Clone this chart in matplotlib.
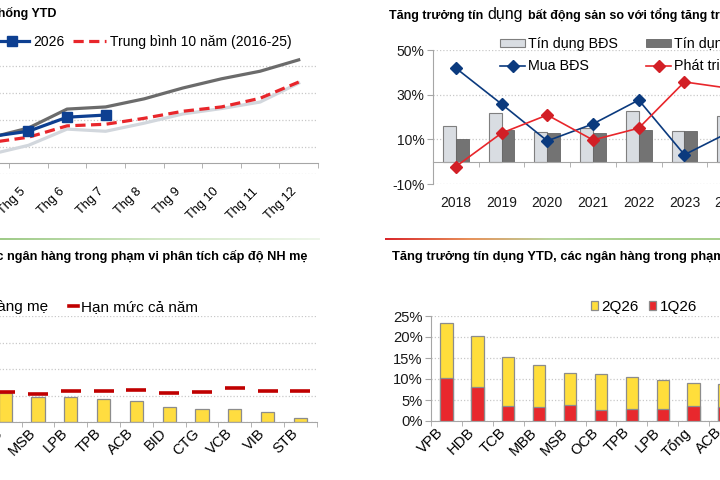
import numpy as np
import matplotlib
matplotlib.use("Agg")
import matplotlib.pyplot as plt
from matplotlib.lines import Line2D
from matplotlib.patches import Patch
from matplotlib.colors import LinearSegmentedColormap
from matplotlib.ticker import FuncFormatter

plt.rcParams['font.family'] = ['Liberation Sans', 'DejaVu Sans']

# ---------------- data ----------------
months = ["Thg 4", "Thg 5", "Thg 6", "Thg 7", "Thg 8", "Thg 9", "Thg 10", "Thg 11", "Thg 12"]
y2024 = [1.6, 3.3, 6.3, 5.9, 7.4, 9.1, 10.1, 11.3, 14.8]
y2025 = [4.7, 6.5, 10.0, 10.4, 11.9, 13.9, 15.6, 17.0, 19.1]
y2026 = [4.9, 5.9, 8.5, 8.9]
avg10 = [3.8, 4.8, 6.9, 7.2, 8.3, 9.6, 10.4, 12.0, 15.0]

years = ["2018", "2019", "2020", "2021", "2022", "2023", "2024"]
td_bds = [16.1, 21.9, 13.4, 15.2, 22.8, 13.9, 20.6]
td_total = [10.3, 14.3, 13.0, 13.0, 14.3, 13.9, 15.0]
mua_bds = [41.9, 25.8, 9.3, 16.9, 27.6, 3.1, 13.4]
phat_trien = [-2.2, 12.8, 20.9, 9.7, 15.0, 35.7, 32.8]

banks_nh = ["MBB", "MSB", "LPB", "TPB", "ACB", "BID", "CTG", "VCB", "VIB", "STB"]
growth_nh = [10.9, 9.5, 9.5, 8.7, 8.0, 5.5, 4.9, 4.8, 3.9, 1.4]
limit_nh = [11.2, 10.6, 11.6, 11.6, 12.0, 10.8, 11.2, 12.9, 11.6, 11.6]

banks = ["VPB", "HDB", "TCB", "MBB", "MSB", "OCB", "TPB", "LPB", "Tổng", "ACB"]
q2_26 = [23.3, 20.2, 15.3, 13.3, 11.5, 11.1, 10.5, 9.8, 9.1, 8.7]
q1_26 = [10.3, 8.0, 3.6, 3.3, 3.8, 2.6, 2.8, 2.9, 3.6, 3.3]

# ---------------- layout helpers ----------------
W, H = 720, 480
fig = plt.figure(figsize=(7.2, 4.8), dpi=100)
fig.patch.set_facecolor('white')
renderer = fig.canvas.get_renderer()


def rect(l, t, r, b):
    return [l / W, 1 - b / H, (r - l) / W, (b - t) / H]


GRID = dict(color='#c9c9c9', linestyle=(0, (1, 1.6)), linewidth=0.9)
AXC = '#a6a6a6'
pct = FuncFormatter(lambda v, p: f"{v:.0f}%")

# ---------------- top-left: line chart ----------------
ax1 = fig.add_axes(rect(-29.5, 55, 318, 174))
x1 = np.arange(len(months))
l24, = ax1.plot(x1, y2024, color='#d2d7dd', lw=2.3, zorder=2, label='2024')
l25, = ax1.plot(x1, y2025, color='#6b6b6b', lw=2.3, zorder=2, label='2025')
lav, = ax1.plot(x1, avg10, color='#e8262b', lw=2.3, zorder=3,
                dashes=(3.2, 1.7), label='Trung bình 10 năm (2016-25)')
l26, = ax1.plot(x1[:len(y2026)], y2026, color='#0d3f91', lw=2.3, marker='s',
                markersize=6.5, zorder=4, label='2026')
ax1.set_xlim(-0.5, len(months) - 0.5)
ax1.set_ylim(-2, 20)
ax1.set_yticks([-2, 3, 8, 13, 18])
ax1.yaxis.set_major_formatter(pct)
ax1.grid(axis='y', **GRID)
ax1.set_axisbelow(True)
for s in ['left', 'right', 'bottom']:
    ax1.spines[s].set_visible(False)
ax1.spines['top'].set_position(('data', 0))
ax1.spines['top'].set_color(AXC)
ax1.set_xticks(x1, months, rotation=45, ha='right', fontsize=9.2)
ax1.set_xticks(np.arange(-0.5, len(months), 1), minor=True)
ax1.tick_params(axis='x', which='major', length=0, pad=8.5)
ax1.tick_params(axis='x', which='minor', bottom=False, top=True, direction='in',
                length=3.5, color=AXC)
ax1.tick_params(axis='y', length=0, labelsize=9)

fig.legend([l24, l25, l26, lav], ['2024', '2025', '2026', 'Trung bình 10 năm (2016-25)'],
           ncol=4, loc='center right', bbox_to_anchor=(292 / W, 1 - 42 / H),
           frameon=False, fontsize=10, handlelength=2.4, handletextpad=0.3,
           columnspacing=0.6, borderpad=0, borderaxespad=0)

fig.text(57 / W, 1 - 13 / H, "Tăng trưởng tín dụng toàn hệ thống YTD",
         ha='right', va='center', fontsize=9, weight='bold')

# ---------------- top-right: bars + lines ----------------
ax2 = fig.add_axes(rect(433, 50, 753, 184))
x2 = np.arange(len(years))
bw = 0.28
b_l = ax2.bar(x2 - bw / 2, td_bds, bw, color='#d9dde2', edgecolor='#7f7f7f', lw=0.8, zorder=2)
b_d = ax2.bar(x2 + bw / 2, td_total, bw, color='#737373', edgecolor='#666666', lw=0.6, zorder=2)
m_l, = ax2.plot(x2, mua_bds, color='#0b3a7e', lw=1.2, marker='D', markersize=6.5, zorder=4)
p_l, = ax2.plot(x2, phat_trien, color='#e8262b', lw=1.2, marker='D', markersize=6.5,
                markerfacecolor='#d21f26', markeredgecolor='#d21f26', zorder=4)
ax2.set_xlim(-0.5, len(years) - 0.5)
ax2.set_ylim(-10, 50)
ax2.set_yticks([-10, 10, 30, 50])
ax2.yaxis.set_major_formatter(pct)
ax2.grid(axis='y', **GRID)
ax2.set_axisbelow(True)
for s in ['right', 'bottom']:
    ax2.spines[s].set_visible(False)
ax2.spines['left'].set_color(AXC)
ax2.spines['top'].set_position(('data', 0))
ax2.spines['top'].set_color(AXC)
ax2.set_xticks(x2, years, fontsize=10)
ax2.set_xticks(np.arange(-0.5, len(years), 1), minor=True)
ax2.tick_params(axis='x', which='major', length=0, pad=8.5, labelcolor='#1a1a1a')
ax2.tick_params(axis='x', which='minor', bottom=False, top=True, direction='in',
                length=3.5, color=AXC)
ax2.tick_params(axis='y', length=4, color=AXC, labelsize=10, labelcolor='#1a1a1a', pad=2)

fig.legend([b_l, m_l, b_d, p_l],
           ['Tín dụng BĐS', 'Mua BĐS', 'Tín dụng toàn hệ thống', 'Phát triển BĐS'],
           ncol=2, loc='center left', bbox_to_anchor=(500 / W, 1 - 55 / H),
           frameon=False, fontsize=10.3, handlelength=1.75, handleheight=0.5,
           handletextpad=0.2, columnspacing=2.0, labelspacing=0.55,
           borderpad=0, borderaxespad=0)

# title made of three pieces, the middle word rendered larger (as in the source)
pieces = [("Tăng trưởng tín", dict(fontsize=9, weight='bold')),
          ("dụng", dict(fontsize=11.5)),
          ("bất động sản so với tổng tăng trưởng tín dụng", dict(fontsize=9, weight='bold'))]
xpos = 389
for txt, kw in pieces:
    t = fig.text(xpos / W, 1 - 19 / H, txt, ha='left', va='baseline', **kw)
    bb = t.get_window_extent(renderer=renderer)
    xpos = bb.x1 + 4.5

# ---------------- separators ----------------
sep1 = fig.add_axes(rect(0, 237.8, 320, 239.8))
sep1.imshow(np.linspace(0, 1, 256)[None, :], aspect='auto',
            cmap=LinearSegmentedColormap.from_list('g', ['#9fcb88', '#d3e8c7', '#eef6ea']))
sep1.axis('off')
sep2 = fig.add_axes(rect(385, 237.8, 720, 239.8))
sep2.imshow(np.linspace(0, 1, 256)[None, :], aspect='auto',
            cmap=LinearSegmentedColormap.from_list(
                'rg', ['#d9262b', '#e8915a', '#b7d7a0', '#a9d08e', '#a9d08e']))
sep2.axis('off')

# ---------------- bottom-left: bars + limit dashes ----------------
ax3 = fig.add_axes(rect(-11.2, 316, 316.8, 422))
x3 = np.arange(len(banks_nh))
b_y = ax3.bar(x3, growth_nh, 0.4, color='#ffdd40', edgecolor='#8c8c8c', lw=0.9, zorder=2)
ax3.plot(x3, limit_nh, linestyle='none', marker='_', markersize=14.5,
         markeredgewidth=2.6, color='#c00000', zorder=3)
ax3.set_xlim(-0.5, len(banks_nh) - 0.5)
ax3.set_ylim(0, 40)
ax3.set_yticks([0, 10, 20, 30, 40])
ax3.yaxis.set_major_formatter(pct)
ax3.grid(axis='y', **GRID)
ax3.set_axisbelow(True)
for s in ['left', 'right', 'top']:
    ax3.spines[s].set_visible(False)
ax3.spines['bottom'].set_color(AXC)
ax3.set_xticks(x3, banks_nh, rotation=45, ha='right', fontsize=10.5)
ax3.set_xticks(np.arange(-0.5, len(banks_nh), 1), minor=True)
ax3.tick_params(axis='x', which='major', length=0, pad=3)
ax3.tick_params(axis='x', which='minor', length=3.5, color=AXC)
ax3.tick_params(axis='y', length=0, labelleft=False)

fig.legend([Patch(facecolor='#ffdd40', edgecolor='#8c8c8c'),
            Line2D([0], [0], color='#c00000', lw=2.6)],
           ['Ngân hàng mẹ', 'Hạn mức cả năm'],
           ncol=2, loc='center right', bbox_to_anchor=(198 / W, 1 - 307 / H),
           frameon=False, fontsize=11, handlelength=0.6, handleheight=0.5,
           handletextpad=0.2, columnspacing=1.35, borderpad=0, borderaxespad=0)

fig.text(308 / W, 1 - 256 / H,
         "Tăng trưởng tín dụng so với hạn mức, các ngân hàng trong phạm vi phân tích cấp độ NH mẹ",
         ha='right', va='center', fontsize=9.2, weight='bold')

# ---------------- bottom-right: overlapping quarter bars ----------------
ax4 = fig.add_axes(rect(431, 316, 740, 421))
x4 = np.arange(len(banks))
bq2 = ax4.bar(x4, q2_26, 0.4, color='#ffde3b', edgecolor='#8c8c8c', lw=0.9, zorder=2)
bq1 = ax4.bar(x4, q1_26, 0.4, color='#e8282d', edgecolor='#8c8c8c', lw=0.9, zorder=3)
ax4.set_xlim(-0.5, len(banks) - 0.5)
ax4.set_ylim(0, 25)
ax4.set_yticks([0, 5, 10, 15, 20, 25])
ax4.yaxis.set_major_formatter(pct)
ax4.grid(axis='y', **GRID)
ax4.set_axisbelow(True)
for s in ['right', 'top']:
    ax4.spines[s].set_visible(False)
ax4.spines['left'].set_color(AXC)
ax4.spines['bottom'].set_color(AXC)
ax4.set_xticks(x4, banks, rotation=45, ha='right', fontsize=10.6)
ax4.set_xticks(np.arange(-0.5, len(banks), 1), minor=True)
ax4.tick_params(axis='x', which='major', length=0, pad=3)
ax4.tick_params(axis='x', which='minor', length=3.5, color=AXC)
ax4.tick_params(axis='y', length=4, color=AXC, labelsize=10.6, labelcolor='#1a1a1a', pad=2)

fig.legend([bq2, bq1], ['2Q26', '1Q26'], ncol=2, loc='center right',
           bbox_to_anchor=(697 / W, 1 - 307 / H), frameon=False, fontsize=11,
           handlelength=0.45, handleheight=0.45, handletextpad=0.25,
           columnspacing=0.65, borderpad=0, borderaxespad=0)

fig.text(392 / W, 1 - 256 / H,
         "Tăng trưởng tín dụng YTD, các ngân hàng trong phạm vi phân tích hợp nhất",
         ha='left', va='center', fontsize=9.3, weight='bold')

fig.savefig('out.png', dpi=100)
